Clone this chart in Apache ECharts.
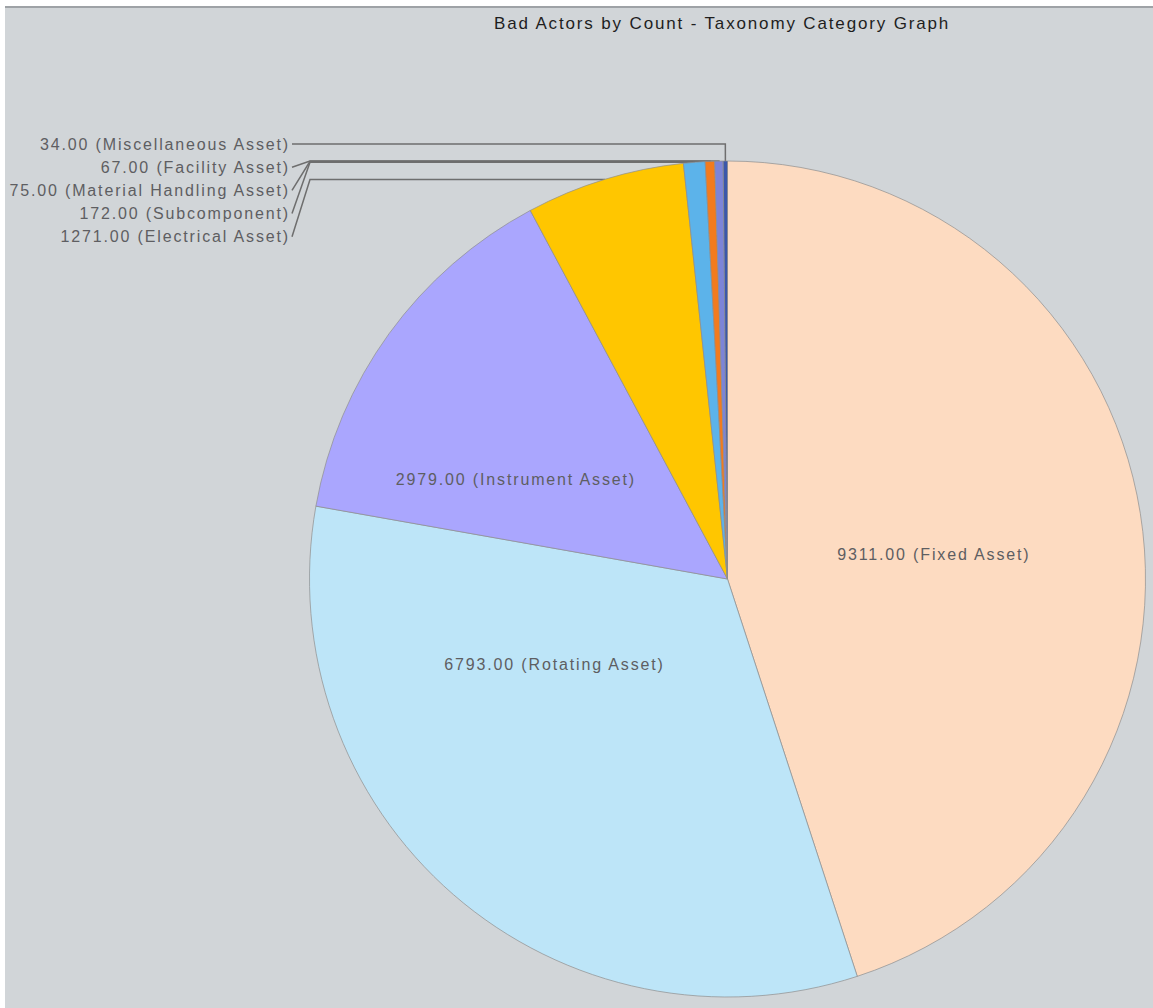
<!DOCTYPE html>
<html><head><meta charset="utf-8">
<script src="https://cdn.jsdelivr.net/npm/echarts@6/dist/echarts.min.js"></script>
<style>
html,body{margin:0;padding:0;background:#fff;overflow:hidden;}
#frame{position:absolute;left:5px;top:6px;width:1148px;height:1002px;background:#D1D5D8;border-top:2px solid #9EA2A6;box-sizing:border-box;}
#chart{position:absolute;left:0;top:0;width:1153px;height:1008px;}
#chart svg text{letter-spacing:1.85px;}
</style></head><body>
<div id="frame"></div><div id="chart"></div>
<script>
const titleText = 'Bad Actors by Count - Taxonomy Category Graph';
const categories = ['Fixed Asset','Rotating Asset','Instrument Asset','Electrical Asset','Subcomponent','Material Handling Asset','Facility Asset','Miscellaneous Asset'];
const counts = [9311, 6793, 2979, 1271, 172, 75, 67, 34];
const colors = ['#FDDBC1','#BDE5F8','#AAA6FE','#FFC600','#5CB3EA','#F27B1E','#7C84D8','#3B57AA'];

const FONT = '"Liberation Sans", Arial, sans-serif';
const CX = 727.5, CY = 579, R = 418;
const total = counts.reduce((a, b) => a + b, 0);
let acc = 0;
const midAng = counts.map(v => { const m = (acc + v / 2) / total * 360; acc += v; return m; });
function pt(angDeg, r) { const a = angDeg * Math.PI / 180; return [CX + Math.sin(a) * r, CY - Math.cos(a) * r]; }

const insideShift = { 0: [-3, 9], 1: [-34, -75], 2: [-40, 25] };
const outsideOrder = [7, 6, 5, 4, 3];
const OUT_RIGHT = 290, LINE_START = 292, OUT_TOP = 144, OUT_STEP = 23.2, ELBOW_X = 310;

const data = categories.map((name, i) => {
  const inside = i < 3;
  return {
    name: name, value: counts[i],
    itemStyle: { color: colors[i] },
    label: { position: inside ? 'inside' : 'outside' },
    labelLine: { show: !inside }
  };
});

const chart = echarts.init(document.getElementById('chart'), null, { renderer: 'svg' });
chart.setOption({
  animation: false,
  backgroundColor: 'transparent',
  title: {
    text: titleText, left: 489, top: 10,
    textStyle: { fontFamily: FONT, fontSize: 17, fontWeight: 'normal', color: '#1e1e1e' }
  },
  series: [{
    type: 'pie',
    center: [CX, CY],
    radius: R,
    startAngle: 90,
    clockwise: true,
    avoidLabelOverlap: false,
    silent: true,
    itemStyle: { borderColor: '#8E8E8E', borderWidth: 0.7 },
    label: {
      show: true,
      fontFamily: FONT, fontSize: 16, color: '#5E5E62',
      formatter: p => p.value.toFixed(2) + ' (' + p.name + ')'
    },
    labelLine: { lineStyle: { color: '#6E6E6E', width: 1.5 } },
    labelLayout: function (params) {
      const i = params.dataIndex;
      if (i < 3) {
        const s = insideShift[i];
        return { dx: s[0], dy: s[1] };
      }
      const k = outsideOrder.indexOf(i);
      const y = OUT_TOP + k * OUT_STEP;
      const knee = pt(midAng[i], R);
      const end = pt(midAng[i], R * 0.95);
      let pts;
      if (y <= knee[1]) {
        pts = [[LINE_START, y], [knee[0], y], [end[0], end[1]]];
      } else {
        const level = knee[1];
        pts = [[LINE_START, y], [ELBOW_X, level], [knee[0], level], [end[0], end[1]]];
      }
      return { x: OUT_RIGHT, y: y, align: 'right', verticalAlign: 'middle', labelLinePoints: pts };
    },
    data: data
  }]
});
</script>
</body></html>
